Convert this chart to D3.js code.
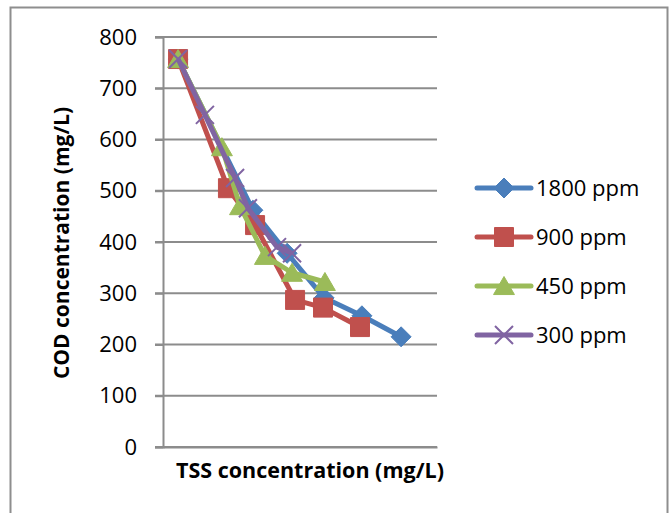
<!DOCTYPE html>
<html>
<head>
<meta charset="utf-8">
<script src="https://cdn.jsdelivr.net/npm/d3@7"></script>
<style>
  body { margin: 0; background: #fff; }
  svg { display: block; }
</style>
</head>
<body>
<div id="chart"></div>
<script>
// series: TSS (x, arbitrary units, axis unlabelled) and COD (mg/L)
const seriesNames = ["1800 ppm", "900 ppm", "450 ppm", "300 ppm"];
const colors = ["#4a7ebb", "#c0504d", "#9bbb59", "#8064a2"];
const markers = ["diamond", "square", "triangle", "cross"];

const tss1800 = [55, 328, 453, 588, 726, 869];
const cod1800 = [757, 462, 378, 291, 256, 215];
const tss900 = [55, 237, 336, 482, 584, 719];
const cod900 = [757, 505, 433, 287, 272, 234];
const tss450 = [55, 215, 281, 372, 471, 591];
const cod450 = [757, 585, 470, 373, 340, 322];
const tss300 = [55, 153, 263, 310, 416, 471];
const cod300 = [757, 648, 525, 466, 390, 378];

const yTicks = [0, 100, 200, 300, 400, 500, 600, 700, 800];

const tssAll = [tss1800, tss900, tss450, tss300];
const codAll = [cod1800, cod900, cod450, cod300];
const series = seriesNames.map((name, i) => ({
    name: name,
    color: colors[i],
    marker: markers[i],
    points: tssAll[i].map((t, j) => ({tss: t, cod: codAll[i][j]}))
}));

const W = 671, H = 513;
const plot = {left: 163, right: 437, top: 37, bottom: 447};

const svg = d3.select("#chart").append("svg")
    .attr("width", W)
    .attr("height", H);

// outer chart border (cropped at the bottom)
svg.append("rect")
    .attr("x", 10.5).attr("y", 7.5)
    .attr("width", 657).attr("height", 530)
    .attr("fill", "none")
    .attr("stroke", "#8e8e8e")
    .attr("stroke-width", 2);

const x = d3.scaleLinear().domain([0, 1000]).range([plot.left, plot.right]);
const y = d3.scaleLinear().domain([0, 800]).range([plot.bottom, plot.top]);

// horizontal gridlines
svg.append("g")
    .attr("class", "grid")
    .selectAll("line")
    .data(yTicks)
    .join("line")
    .attr("x1", plot.left - 8)
    .attr("x2", plot.right)
    .attr("y1", d => y(d))
    .attr("y2", d => y(d))
    .attr("stroke", "#8c8c8c")
    .attr("stroke-width", 2);

// y axis
const yAxis = d3.axisLeft(y).tickValues(yTicks).tickSize(8).tickPadding(18);
const gy = svg.append("g")
    .attr("transform", "translate(" + plot.left + ",0)")
    .call(yAxis);
gy.select(".domain").attr("stroke", "#8c8c8c").attr("stroke-width", 2);
gy.selectAll(".tick line").attr("stroke", "#8c8c8c").attr("stroke-width", 2);
gy.selectAll(".tick text")
    .style("font-family", "'Open Sans', sans-serif")
    .style("font-size", "22px")
    .attr("fill", "#000");

// x axis (no tick labels)
const xAxis = d3.axisBottom(x).tickValues([]).tickSize(0).tickSizeOuter(0);
const gx = svg.append("g")
    .attr("transform", "translate(0," + plot.bottom + ")")
    .call(xAxis);
gx.select(".domain").attr("stroke", "#8c8c8c").attr("stroke-width", 2);

// marker shapes
function markerPath(type, s) {
    if (type === "diamond") {
        return "M0," + (-s) + "L" + s + ",0L0," + s + "L" + (-s) + ",0Z";
    }
    if (type === "square") {
        return "M" + (-s) + "," + (-s) + "H" + s + "V" + s + "H" + (-s) + "Z";
    }
    if (type === "triangle") {
        return "M0," + (-s) + "L" + (s * 1.1) + "," + (s * 0.9) + "L" + (-s * 1.1) + "," + (s * 0.9) + "Z";
    }
    return "M" + (-s) + "," + (-s) + "L" + s + "," + s + "M" + s + "," + (-s) + "L" + (-s) + "," + s;
}
const markerSize = {diamond: 10, square: 9.5, triangle: 9.5, cross: 9};

function drawMarker(g, type, color) {
    const p = g.append("path").attr("d", markerPath(type, markerSize[type]));
    if (type === "cross") {
        p.attr("fill", "none").attr("stroke", color).attr("stroke-width", 2);
    } else {
        p.attr("fill", color).attr("stroke", color).attr("stroke-width", 1);
    }
}

const line = d3.line()
    .x(d => x(d.tss))
    .y(d => y(d.cod));

series.forEach(s => {
    const g = svg.append("g").attr("class", "series");
    g.append("path")
        .datum(s.points)
        .attr("fill", "none")
        .attr("stroke", s.color)
        .attr("stroke-width", 5)
        .attr("stroke-linejoin", "round")
        .attr("d", line);
    s.points.forEach(d => {
        const m = g.append("g")
            .attr("transform", "translate(" + x(d.tss) + "," + y(d.cod) + ")");
        drawMarker(m, s.marker, s.color);
    });
});

// legend
const legend = svg.append("g").attr("class", "legend");
series.forEach((s, i) => {
    const ly = 188 + i * 49;
    const row = legend.append("g").attr("transform", "translate(0," + ly + ")");
    row.append("line")
        .attr("x1", 477).attr("x2", 531)
        .attr("stroke", s.color)
        .attr("stroke-width", 5)
        .attr("stroke-linecap", "round");
    const m = row.append("g").attr("transform", "translate(504,0)");
    drawMarker(m, s.marker, s.color);
    row.append("text")
        .attr("x", 536)
        .attr("dy", "0.36em")
        .style("font-family", "'Open Sans', sans-serif")
        .style("font-size", "22px")
        .attr("fill", "#000")
        .text(s.name);
});

// axis titles
svg.append("text")
    .attr("transform", "translate(69,243) rotate(-90)")
    .attr("text-anchor", "middle")
    .style("font-family", "'Open Sans', sans-serif")
    .style("font-weight", "700")
    .style("font-size", "21px")
    .text("COD concentration (mg/L)");

svg.append("text")
    .attr("x", 310)
    .attr("y", 478)
    .attr("text-anchor", "middle")
    .style("font-family", "'Open Sans', sans-serif")
    .style("font-weight", "700")
    .style("font-size", "21.5px")
    .text("TSS concentration (mg/L)");
</script>
</body>
</html>
